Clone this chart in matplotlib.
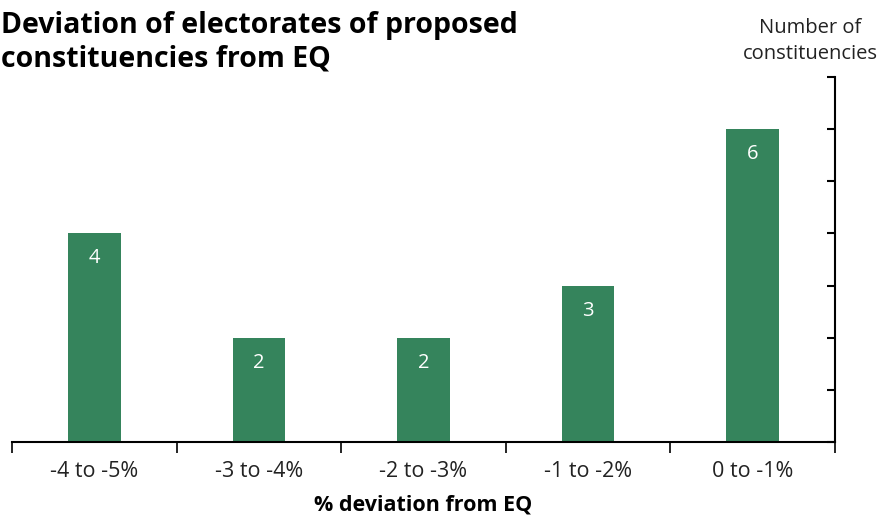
import matplotlib.pyplot as plt
import numpy as np

plt.rcParams['font.family'] = ['Open Sans', 'DejaVu Sans']

# data
categories = ['-4 to -5%', '-3 to -4%', '-2 to -3%', '-1 to -2%', '0 to -1%']
counts = [4, 2, 2, 3, 6]

fig = plt.figure(figsize=(8.81, 5.16), dpi=100)
ax = fig.add_axes([12 / 881, 1 - 442 / 516, (835 - 12) / 881, (442 - 77) / 516])

x = np.arange(len(categories))
bars = ax.bar(x, counts, width=0.32, color='#35845c')

for xi, c in zip(x, counts):
    ax.annotate(str(c), (xi, c), xytext=(0, -25), textcoords='offset pixels',
                ha='center', va='center', color='white', fontsize=14.5)

ax.set_xlim(-0.5, len(categories) - 0.5)
ax.set_ylim(0, 7)

# right axis, ticks inward, no labels
ax.yaxis.tick_right()
ax.set_yticks(range(0, 8))
ax.tick_params(axis='y', direction='in', length=6, width=1.5, labelright=False, right=True, left=False)

# x ticks at category boundaries
ax.set_xticks(np.arange(-0.5, len(categories), 1.0))
ax.set_xticklabels([])
ax.set_xticks(x, minor=True)
ax.set_xticklabels(categories, minor=True, fontsize=15.5, color='#222222')
ax.tick_params(axis='x', which='major', direction='out', length=8, width=1.2)
ax.tick_params(axis='x', which='minor', length=0, pad=14)

for s in ['top', 'left']:
    ax.spines[s].set_visible(False)
ax.spines['bottom'].set_linewidth(1.5)
ax.spines['right'].set_linewidth(1.5)

ax.set_xlabel('% deviation from EQ', fontsize=15.5, fontweight='bold', labelpad=9)

fig.text(0.001, 1 - 11 / 516, 'Deviation of electorates of proposed\nconstituencies from EQ',
         fontsize=20.5, fontweight='bold', ha='left', va='top', linespacing=1.2)
fig.text(810 / 881, 1 - 18 / 516, 'Number of\nconstituencies', fontsize=14.5, ha='center',
         va='top', color='#222222', linespacing=1.4)

fig.savefig('out.png', dpi=100)
